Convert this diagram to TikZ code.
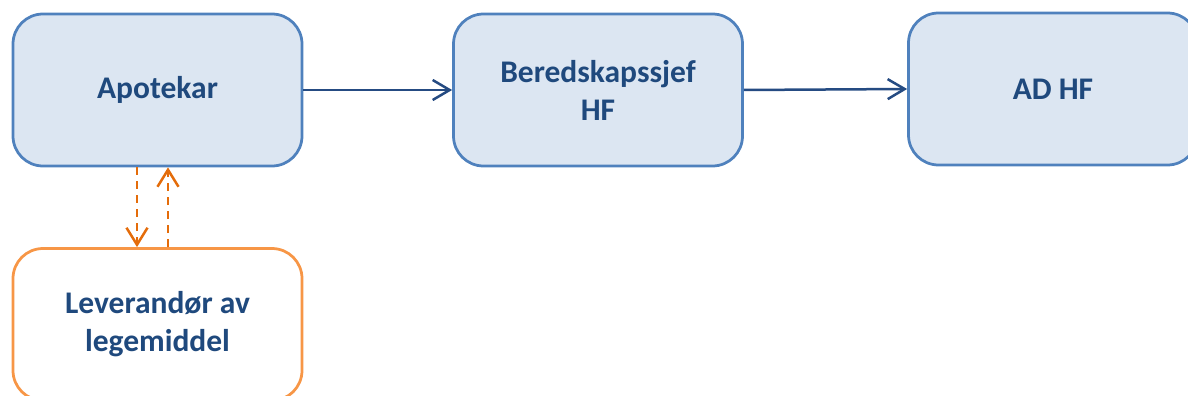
\documentclass[tikz,border=0pt]{standalone}
\usepackage{fontspec}
\setmainfont{Carlito}
\usetikzlibrary{arrows.meta,calc}
\definecolor{boxfill}{RGB}{220,230,242}
\definecolor{boxline}{RGB}{79,129,189}
\definecolor{txtblue}{RGB}{31,73,125}
\definecolor{arrblue}{RGB}{37,75,130}
\definecolor{orline}{RGB}{247,150,70}
\definecolor{ordash}{RGB}{228,108,10}
\tikzset{
  bluebox/.style={draw=boxline, fill=boxfill, line width=2.75pt, rounded corners=30pt,
    minimum width=289pt, minimum height=152pt, inner sep=0pt, align=center,
    text=txtblue, font=\fontsize{31.5pt}{38pt}\selectfont\bfseries},
  orangebox/.style={bluebox, draw=orline, fill=white},
  flowarrow/.style={draw=arrblue, line width=2.5pt, -{Straight Barb[length=17pt,width=20pt,line width=2.5pt]}},
  dasharrow/.style={draw=ordash, line width=2.5pt, dash pattern=on 8pt off 6pt,
    -{Straight Barb[length=17pt,width=21pt,line width=2.5pt]}}
}
\begin{document}
\begin{tikzpicture}[x=1pt,y=-1pt]
\useasboundingbox (0,0) rectangle (1188,396);
\begin{scope}
\clip (0,0) rectangle (1188,396);
\node[bluebox] (a) at (157.5,90) {Apotekar};
\node[bluebox] (b) at (598,90) {Beredskapssjef\\HF};
\node[bluebox] (c) at (1053,89) {AD HF};
\node[orangebox] (d) at (157.5,324.5) {Leverandør av\\legemiddel};
\draw[flowarrow] (a.east) -- (b.west);
\draw[flowarrow] (b.east) -- (c.west);
\coordinate (a1) at ($(a.south)+(-20.5,0)$);
\coordinate (d1) at ($(d.north)+(-20.5,0)$);
\coordinate (a2) at ($(a.south)+(10.5,0)$);
\coordinate (d2) at ($(d.north)+(10.5,0)$);
\draw[dasharrow] (a1) -- (d1);
\draw[dasharrow] (d2) -- (a2);
\end{scope}
\end{tikzpicture}
\end{document}
